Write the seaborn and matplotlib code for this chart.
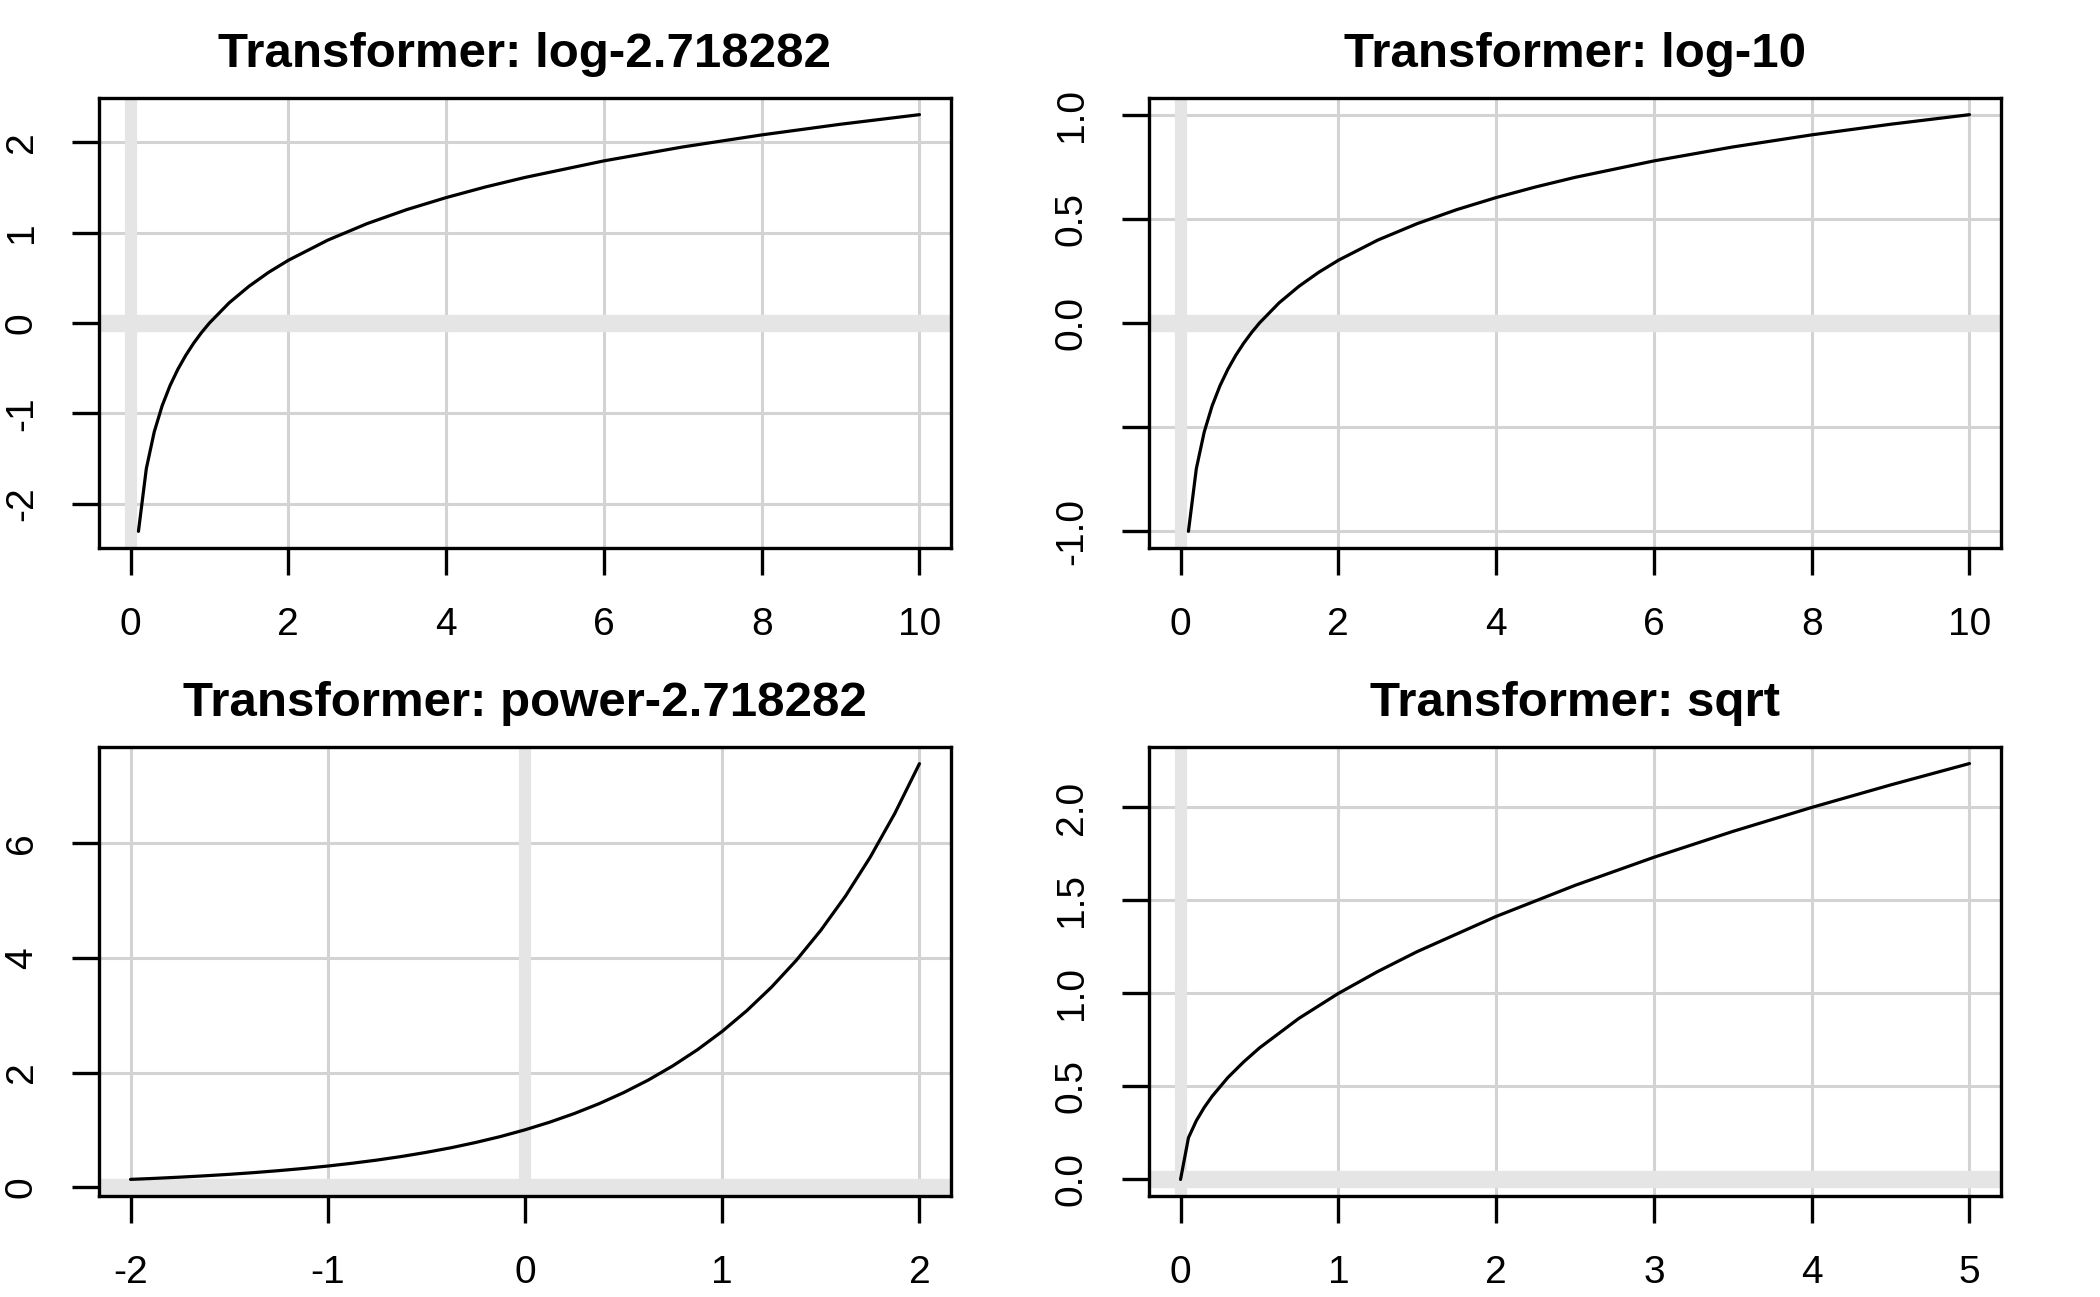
import matplotlib
matplotlib.use("Agg")
import matplotlib.pyplot as plt
import seaborn as sns
import pandas as pd

sns.set_theme(style="white")
plt.rcParams['font.family'] = ['Liberation Sans', 'DejaVu Sans']

# ---- data ----
titles = ["Transformer: log-2.718282", "Transformer: log-10",
          "Transformer: power-2.718282", "Transformer: sqrt"]

log_e_x = [0.1, 0.2, 0.3, 0.4, 0.5, 0.6, 0.7, 0.8, 0.9, 1.0, 1.25, 1.5, 1.75, 2, 2.5, 3, 3.5,
           4, 4.5, 5, 6, 7, 8, 9, 10]
log_e_y = [-2.303, -1.609, -1.204, -0.916, -0.693, -0.511, -0.357, -0.223, -0.105, 0.0, 0.223,
           0.405, 0.560, 0.693, 0.916, 1.099, 1.253, 1.386, 1.504, 1.609, 1.792, 1.946, 2.079,
           2.197, 2.303]

log_10_x = [0.1, 0.2, 0.3, 0.4, 0.5, 0.6, 0.7, 0.8, 0.9, 1.0, 1.25, 1.5, 1.75, 2, 2.5, 3, 3.5,
            4, 4.5, 5, 6, 7, 8, 9, 10]
log_10_y = [-1.0, -0.699, -0.523, -0.398, -0.301, -0.222, -0.155, -0.097, -0.046, 0.0, 0.097,
            0.176, 0.243, 0.301, 0.398, 0.477, 0.544, 0.602, 0.653, 0.699, 0.778, 0.845, 0.903,
            0.954, 1.0]

power_x = [-2, -1.875, -1.75, -1.625, -1.5, -1.375, -1.25, -1.125, -1, -0.875, -0.75, -0.625,
           -0.5, -0.375, -0.25, -0.125, 0, 0.125, 0.25, 0.375, 0.5, 0.625, 0.75, 0.875, 1,
           1.125, 1.25, 1.375, 1.5, 1.625, 1.75, 1.875, 2]
power_y = [0.135, 0.153, 0.174, 0.197, 0.223, 0.253, 0.287, 0.325, 0.368, 0.417, 0.472, 0.535,
           0.607, 0.687, 0.779, 0.882, 1.0, 1.133, 1.284, 1.455, 1.649, 1.868, 2.117, 2.399,
           2.718, 3.080, 3.490, 3.955, 4.482, 5.078, 5.755, 6.521, 7.389]

sqrt_x = [0, 0.05, 0.1, 0.15, 0.2, 0.3, 0.4, 0.5, 0.75, 1, 1.25, 1.5, 2, 2.5, 3, 3.5, 4, 4.5, 5]
sqrt_y = [0, 0.224, 0.316, 0.387, 0.447, 0.548, 0.632, 0.707, 0.866, 1.0, 1.118, 1.225, 1.414,
          1.581, 1.732, 1.871, 2.0, 2.121, 2.236]

xticks_list = [[0, 2, 4, 6, 8, 10], [0, 2, 4, 6, 8, 10], [-2, -1, 0, 1, 2], [0, 1, 2, 3, 4, 5]]
xlabels_list = [["0", "2", "4", "6", "8", "10"], ["0", "2", "4", "6", "8", "10"],
                ["-2", "-1", "0", "1", "2"], ["0", "1", "2", "3", "4", "5"]]
yticks_list = [[-2, -1, 0, 1, 2], [-1.0, -0.5, 0.0, 0.5, 1.0], [0, 2, 4, 6],
               [0.0, 0.5, 1.0, 1.5, 2.0]]
ylabels_list = [["-2", "-1", "0", "1", "2"], ["-1.0", "", "0.0", "0.5", "1.0"],
                ["0", "2", "4", "6"], ["0.0", "0.5", "1.0", "1.5", "2.0"]]

series = [(log_e_x, log_e_y), (log_10_x, log_10_y), (power_x, power_y), (sqrt_x, sqrt_y)]
xlims = [(-0.4, 10.4), (-0.4, 10.4), (-2.16, 2.16), (-0.2, 5.2)]
ylims = [(-2.487, 2.487), (-1.08, 1.08), (-0.155, 7.68), (-0.089, 2.325)]

# ---- layout ----
W, H = 2100, 1297
fig = plt.figure(figsize=(W / 100, H / 100), dpi=100)
boxes = [(99, 98, 951, 548), (1149, 98, 2001, 548), (99, 747, 951, 1196), (1149, 747, 2001, 1196)]

for i in range(4):
    l, t, r, b = boxes[i]
    ax = fig.add_axes([l / W, 1 - b / H, (r - l) / W, (b - t) / H])
    ax.set_facecolor("white")
    ax.grid(False)
    for xv in xticks_list[i]:
        ax.axvline(xv, color="#D3D3D3", lw=2.2, zorder=1)
    for yv in yticks_list[i]:
        ax.axhline(yv, color="#D3D3D3", lw=2.2, zorder=1)
    ax.axvline(0, color="#E5E5E5", lw=8.8, zorder=2)
    ax.axhline(0, color="#E5E5E5", lw=12.5, zorder=2)
    df = pd.DataFrame({"x": series[i][0], "y": series[i][1]})
    sns.lineplot(data=df, x="x", y="y", ax=ax, color="black", lw=2.3,
                 estimator=None, sort=False, zorder=3)
    ax.set_xlim(*xlims[i])
    ax.set_ylim(*ylims[i])
    ax.set_xticks(xticks_list[i])
    ax.set_xticklabels(xlabels_list[i])
    ax.set_yticks(yticks_list[i])
    ax.set_yticklabels(ylabels_list[i])
    ax.set_xlabel("")
    ax.set_ylabel("")
    for s in ax.spines.values():
        s.set_visible(True)
        s.set_color("black")
        s.set_linewidth(2.4)
    ax.tick_params(axis="both", direction="out", length=19.5, width=2.4, color="black",
                   labelsize=28, pad=23, labelcolor="black", left=True, bottom=True)
    ax.tick_params(axis="y", labelrotation=90)
    for lab in ax.get_yticklabels():
        lab.set_va("center")
    ax.set_title(titles[i], fontsize=35.5, fontweight="bold", pad=22, color="black")

fig.savefig("out.png", dpi=100)
